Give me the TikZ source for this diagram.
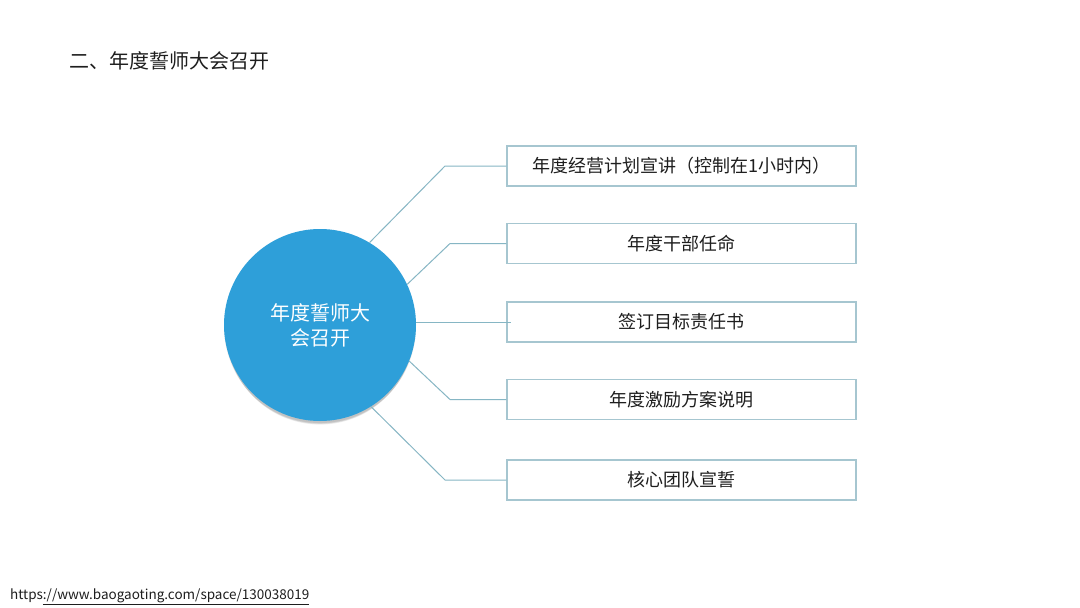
\documentclass[tikz,border=0pt]{standalone}
\usepackage{fontspec}
\setmainfont{Noto Sans CJK SC}
\definecolor{circblue}{HTML}{2E9FD9}
\definecolor{linec}{HTML}{86B6C4}
\definecolor{boxc}{HTML}{A6C6D0}
\definecolor{txt}{HTML}{1E1E1E}
\begin{document}
\begin{tikzpicture}[x=1pt,y=-1pt,
  itembox/.style={draw=boxc,line width=1.2pt,fill=white,minimum width=349pt,minimum height=40pt,inner sep=0pt,font=\fontsize{18}{20}\selectfont,text=txt},
  conn/.style={draw=linec,line width=1pt}]
\useasboundingbox[fill=white] (0,0) rectangle (1080,608);
\node[anchor=west,font=\fontsize{20}{24}\selectfont,text=txt] (title) at (66,61) {二、年度誓师大会召开};
% soft shadow below the circle
\foreach \i/\o in {0/0.05,1/0.05,2/0.05,3/0.05,4/0.05}{
  \fill[black,opacity=\o] (320,{327+\i}) circle ({96-0.6*\i});
}
\node[circle,fill=circblue,minimum size=192pt,inner sep=0pt,align=center,text=white,
  font=\fontsize{20}{25}\selectfont] (c) at (320,325) {年度誓师大\\会召开};
\node[itembox] (b1) at (681.5,166) {年度经营计划宣讲（控制在1小时内）};
\node[itembox] (b2) at (681.5,243.5) {年度干部任命};
\node[itembox] (b3) at (681.5,322) {签订目标责任书};
\node[itembox] (b4) at (681.5,399.5) {年度激励方案说明};
\node[itembox] (b5) at (681.5,480) {核心团队宣誓};
\coordinate (k1) at (445,166);
\coordinate (k2) at (450,243.5);
\coordinate (k4) at (450,399.5);
\coordinate (k5) at (445,480);
\draw[conn] (c.59) -- (k1) -- (b1.west);
\draw[conn] (c.25) -- (k2) -- (b2.west);
\draw[conn] (c.east |- b3) -- ([xshift=5pt]b3.west);
\draw[conn] (c.-22) -- (k4) -- (b4.west);
\draw[conn] (c.-58) -- (k5) -- (b5.west);
\node[anchor=west,font=\fontsize{13.5}{16}\selectfont,text=txt,inner sep=0pt] (url) at (10,597) {https\underline{://www.baogaoting.com/space/130038019}};
\end{tikzpicture}
\end{document}
